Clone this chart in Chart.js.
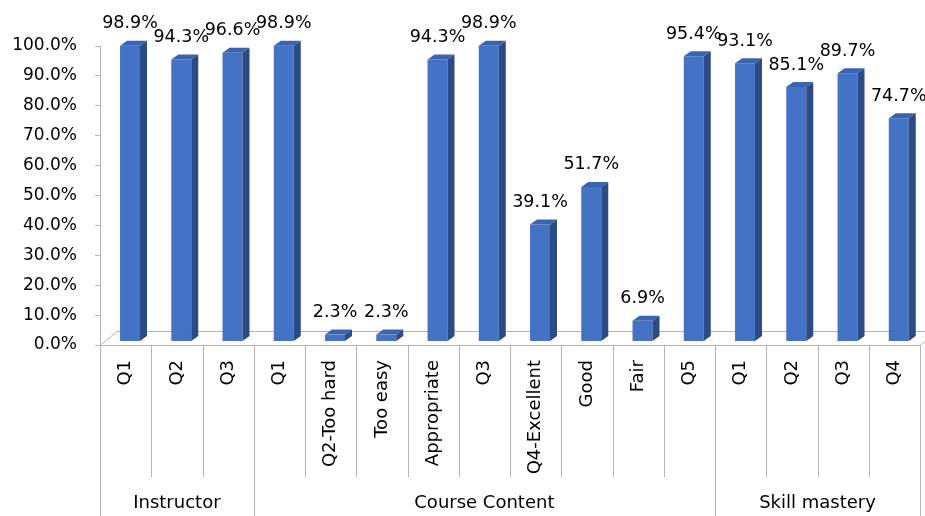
<!DOCTYPE html>
<html>
<head>
<meta charset="utf-8">
<script src="https://cdn.jsdelivr.net/npm/chart.js@4/dist/chart.umd.min.js"></script>
<style>
  html, body { margin: 0; padding: 0; background: #fff; }
  #wrap { width: 925px; height: 516px; position: relative; }
</style>
</head>
<body>
<div id="wrap"><canvas id="chart"></canvas></div>
<script>
// categories and values
const categories = ['Q1', 'Q2', 'Q3', 'Q1', 'Q2-Too hard', 'Too easy', 'Appropriate', 'Q3',
  'Q4-Excellent', 'Good', 'Fair', 'Q5', 'Q1', 'Q2', 'Q3', 'Q4'];
const values = [98.9, 94.3, 96.6, 98.9, 2.3, 2.3, 94.3, 98.9, 39.1, 51.7, 6.9, 95.4, 93.1, 85.1, 89.7, 74.7];
const groups = [
  { name: 'Instructor', from: 0, to: 2 },
  { name: 'Course Content', from: 3, to: 11 },
  { name: 'Skill mastery', from: 12, to: 15 },
];
const yTicks = [0, 10, 20, 30, 40, 50, 60, 70, 80, 90, 100];

const FONT = '"DejaVu Sans", sans-serif';
const LINE = '#b4b4b4';
const DX = 7, DY = -5;          // bar depth
const FLOOR_DX = 17, FLOOR_DY = -14;
const SHIFT_X = 4.4, SHIFT_Y = -3.5;

const bars3d = {
  id: 'bars3d',
  beforeDatasetsDraw(chart) {
    const { ctx, chartArea } = chart;
    ctx.save();
    ctx.strokeStyle = LINE;
    ctx.lineWidth = 1;
    // floor
    const b = chartArea.bottom + 0.5;
    ctx.beginPath();
    ctx.moveTo(chartArea.left, b);
    ctx.lineTo(chartArea.left + FLOOR_DX, b + FLOOR_DY);
    ctx.lineTo(chartArea.right + FLOOR_DX, b + FLOOR_DY);
    ctx.moveTo(chartArea.left, b);
    ctx.lineTo(chartArea.right, b);
    ctx.lineTo(chartArea.right + FLOOR_DX, b + FLOOR_DY);
    ctx.stroke();
    // category separators
    const step = (chartArea.right - chartArea.left) / categories.length;
    const bounds = new Set();
    groups.forEach(g => { bounds.add(g.from); bounds.add(g.to + 1); });
    for (let i = 0; i <= categories.length; i++) {
      const px = Math.round(chartArea.left + i * step) + 0.5;
      ctx.beginPath();
      ctx.moveTo(px, chartArea.bottom);
      ctx.lineTo(px, bounds.has(i) ? chart.height : chartArea.bottom + 132);
      ctx.stroke();
    }
    // group labels
    ctx.fillStyle = '#000';
    ctx.font = '18px ' + FONT;
    ctx.textAlign = 'center';
    ctx.textBaseline = 'middle';
    groups.forEach(g => {
      const cx = (chartArea.left + g.from * step + chartArea.left + (g.to + 1) * step) / 2;
      ctx.fillText(g.name, cx, 503);
    });
    ctx.restore();

    ctx.save();
    ctx.translate(SHIFT_X, SHIFT_Y);
  },
  afterDatasetsDraw(chart) {
    const { ctx } = chart;
    const meta = chart.getDatasetMeta(0);
    meta.data.forEach((bar, i) => {
      const { x, y, base, width } = bar.getProps(['x', 'y', 'base', 'width'], true);
      const l = x - width / 2, r = x + width / 2;
      ctx.fillStyle = '#3b64b0';
      ctx.beginPath();
      ctx.moveTo(l, y);
      ctx.lineTo(l + DX, y + DY);
      ctx.lineTo(r + DX, y + DY);
      ctx.lineTo(r, y);
      ctx.closePath();
      ctx.fill();
      ctx.fillStyle = '#2c4a84';
      ctx.beginPath();
      ctx.moveTo(r, y);
      ctx.lineTo(r + DX, y + DY);
      ctx.lineTo(r + DX, base + DY);
      ctx.lineTo(r, base);
      ctx.closePath();
      ctx.fill();

      ctx.fillStyle = '#000';
      ctx.font = '17.5px ' + FONT;
      ctx.textAlign = 'center';
      ctx.textBaseline = 'middle';
      ctx.fillText(values[i].toFixed(1) + '%', x, y - 22);
    });
    ctx.restore();
  }
};

new Chart(document.getElementById('chart'), {
  type: 'bar',
  data: {
    labels: categories,
    datasets: [{
      data: values,
      backgroundColor: '#4472c4',
      borderWidth: 0,
      barPercentage: 0.39,
      categoryPercentage: 1,
      clip: false,
    }],
  },
  options: {
    responsive: true,
    maintainAspectRatio: false,
    animation: false,
    layout: { padding: { top: 46, right: 5, left: 0, bottom: 0 } },
    plugins: { legend: { display: false }, tooltip: { enabled: false } },
    scales: {
      x: {
        grid: { display: false, drawTicks: false },
        border: { display: false },
        ticks: {
          autoSkip: false,
          minRotation: 90,
          maxRotation: 90,
          padding: 15,
          color: '#000',
          font: { family: FONT, size: 18 },
        },
        afterFit(scale) {
          scale.height = 171;
          scale.paddingLeft = 0;
          scale.paddingRight = 0;
        },
      },
      y: {
        min: 0,
        max: 100,
        afterBuildTicks(scale) { scale.ticks = yTicks.map(v => ({ value: v })); },
        grid: { drawOnChartArea: false, drawTicks: true, tickLength: 5, color: LINE },
        border: { display: true, color: LINE },
        ticks: {
          padding: 18,
          color: '#000',
          font: { family: FONT, size: 17 },
          callback: v => v.toFixed(1) + '%',
        },
        afterFit(scale) {
          scale.width = 100;
          scale.paddingTop = 0;
          scale.paddingBottom = 0;
        },
      },
    },
  },
  plugins: [bars3d],
});
</script>
</body>
</html>
